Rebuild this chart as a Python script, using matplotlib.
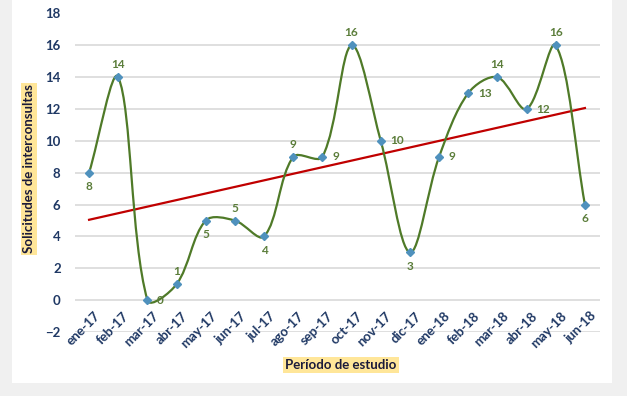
import numpy as np
import matplotlib
matplotlib.use("Agg")
import matplotlib.pyplot as plt
from matplotlib.path import Path
from matplotlib.patches import PathPatch
import matplotlib.transforms as mtransforms

months = ["ene-17", "feb-17", "mar-17", "abr-17", "may-17", "jun-17", "jul-17",
          "ago-17", "sep-17", "oct-17", "nov-17", "dic-17", "ene-18", "feb-18",
          "mar-18", "abr-18", "may-18", "jun-18"]
values = [8, 14, 0, 1, 5, 5, 4, 9, 9, 16, 10, 3, 9, 13, 14, 12, 16, 6]
label_pos = ["below", "above", "right", "above", "below", "above", "below",
             "above", "right", "above", "right", "below", "right", "right",
             "above", "right", "above", "below"]
yticks = list(range(-2, 19, 2))

plt.rcParams['font.family'] = ['Lato', 'DejaVu Sans']

fig = plt.figure(figsize=(6.27, 3.96), dpi=100)
fig.patch.set_facecolor("#f0f0f0")
# white panel
panel = plt.Rectangle((12 / 627, 1 - 383 / 396), 600 / 627, 383 / 396,
                      transform=fig.transFigure, facecolor="white",
                      edgecolor="none", zorder=-5)
fig.patches.append(panel)

ax = fig.add_axes([74.5 / 627, 1 - 332 / 396, 525 / 627, (332 - 13.5) / 396])
ax.set_facecolor("none")
n = len(values)
x = np.arange(n)
y = np.array(values, dtype=float)

ax.set_xlim(-0.5, n - 0.5)
ax.set_ylim(-2, 18)
ax.set_yticks(yticks)
ax.grid(axis="y", color="#d9d9d9", linewidth=1.2)
ax.set_axisbelow(True)
for s in ax.spines.values():
    s.set_visible(False)
ax.tick_params(axis="both", length=0)
ax.tick_params(axis="y", labelsize=9.5, labelcolor="#1f3864", pad=10)
for t in ax.get_yticklabels():
    t.set_fontweight("bold")
ax.set_xticks([])

# Excel-like smoothing: Bezier control points scaled by screen segment lengths
pts = ax.transData.transform(np.column_stack([x, y]))
inv = ax.transData.inverted()


def ctrl(i_prev, i, i_next, toward_next):
    p0, p1, p2 = pts[i_prev], pts[i], pts[i_next]
    d01 = np.hypot(*(p1 - p0))
    d12 = np.hypot(*(p2 - p1))
    tot = d01 + d12
    if tot == 0:
        return p1
    tang = p2 - p0
    if toward_next:
        return p1 + tang * (d12 / tot) / 3.0
    return p1 - tang * (d01 / tot) / 3.0


verts = [tuple(pts[0])]
codes = [Path.MOVETO]
for i in range(n - 1):
    c1 = ctrl(max(i - 1, 0), i, i + 1, True)
    c2 = ctrl(i, i + 1, min(i + 2, n - 1), False)
    verts += [tuple(c1), tuple(c2), tuple(pts[i + 1])]
    codes += [Path.CURVE4] * 3
verts_data = inv.transform(np.array(verts))
ax.add_patch(PathPatch(Path(verts_data, codes), facecolor="none",
                       edgecolor="#4f7a28", linewidth=1.6, zorder=3))

# trend line
slope, intercept = np.polyfit(x, y, 1)
ax.plot([x[0], x[-1]], [intercept + slope * x[0], intercept + slope * x[-1]],
        color="#c00000", linewidth=1.6, zorder=2)

ax.plot(x, y, linestyle="none", marker="D", markersize=3.8,
        color="#4f91bd", zorder=4)

# data labels
for xi, yi, pos in zip(x, y, label_pos):
    if pos == "above":
        off, ha, va = (0, 5), "center", "bottom"
    elif pos == "below":
        off, ha, va = (0, -6), "center", "top"
    else:
        off, ha, va = (7, 0), "left", "center"
    ax.annotate(str(int(yi)), (xi, yi), xytext=off, textcoords="offset points",
                ha=ha, va=va, fontsize=8.5, fontweight="bold", color="#5b7d3a",
                zorder=5)

# category labels next to the y=0 axis
for xi, m in zip(x, months):
    ax.text(xi, 0, m, transform=ax.transData + mtransforms.ScaledTranslation(
        3.5 / 72, -7 / 72, fig.dpi_scale_trans),
        rotation=45, rotation_mode="anchor", ha="right", va="top",
        fontsize=9.5, fontweight="bold", color="#1f3864", clip_on=False)

fig.text(29 / 627, 1 - 169 / 396, "Solicitudes de interconsultas", rotation=90,
         ha="center", va="center", fontsize=9.5, fontweight="bold",
         color="#1a1a3a",
         bbox=dict(boxstyle="square,pad=0.15", facecolor="#ffe699",
                   edgecolor="none"))
fig.text(341 / 627, 1 - 365 / 396, "Período de estudio", ha="center",
         va="center", fontsize=9.5, fontweight="bold", color="#1a1a3a",
         bbox=dict(boxstyle="square,pad=0.15", facecolor="#ffe699",
                   edgecolor="none"))

fig.savefig("out.png", dpi=100, facecolor=fig.get_facecolor())
